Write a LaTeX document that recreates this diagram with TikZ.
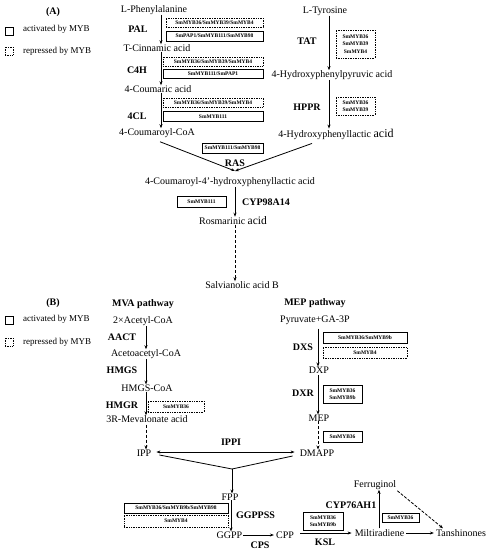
\documentclass[tikz,border=0pt]{standalone}
\usepackage{fontspec}
\setmainfont{Liberation Serif}
\usetikzlibrary{arrows.meta,calc}
\begin{document}
\begin{tikzpicture}[x=1pt,y=-1pt,
 cmp/.style={inner sep=0pt,font=\fontsize{10}{11}\selectfont},
 enz/.style={inner sep=0pt,font=\fontsize{10}{11}\selectfont\bfseries},
 lgd/.style={inner sep=0pt,anchor=west,font=\fontsize{9}{10}\selectfont},
 act/.style={draw,line width=0.9pt,inner sep=0pt,font=\fontsize{5.5}{7}\selectfont\bfseries,align=center},
 rep/.style={draw,densely dotted,line width=0.7pt,inner sep=0pt,font=\fontsize{5.5}{7}\selectfont\bfseries,align=center},
 lact/.style={draw,line width=0.9pt,inner sep=0pt,minimum size=8pt},
 lrep/.style={draw,densely dotted,line width=0.7pt,inner sep=0pt,minimum size=8pt},
 arr/.style={line width=0.8pt,-{Stealth[length=4pt,width=3pt]}},
 darr/.style={arr,densely dashed},
 ddarr/.style={arr,dash pattern=on 3pt off 1.5pt},
 arrtwo/.style={line width=0.8pt,{Stealth[length=4pt,width=3pt]}-{Stealth[length=4pt,width=3pt]}},
 ln/.style={line width=0.8pt},
]
\useasboundingbox (0,0) rectangle (488,550);
% ---------------- (A) ----------------
\node[enz] (labA) at (53,12) {(A)};
\node[lact] (la1) at (9,31) {};
\node[lgd] (lt1) at (23,29) {activated by MYB};
\node[lrep] (lr1) at (9,51) {};
\node[lgd] (lt2) at (23,51) {repressed by MYB};

\node[cmp] (phe) at (154,10) {L-Phenylalanine};
\node[cmp] (cin) at (157,48) {T-Cinnamic acid};
\node[cmp] (cou) at (158,89) {4-Coumaric acid};
\node[cmp] (coa) at (157,133) {4-Coumaroyl-CoA};
\node[cmp] (tyr) at (325,11) {L-Tyrosine};
\node[cmp] (hpp) at (332,75) {4-Hydroxyphenylpyruvic acid};
\node[cmp] (hpl) at (336,134) {4-Hydroxyphenyllactic {\fontsize{12}{12}\selectfont acid}};
\node[cmp] (cha) at (230,182) {4-Coumaroyl-4’-hydroxyphenyllactic acid};
\node[cmp] (ros) at (233,221) {Rosmarinic {\fontsize{11.5}{12}\selectfont acid}};
\node[cmp] (sal) at (242,285) {Salvianolic acid B};

\node[enz] (pal) at (138,29) {PAL};
\node[enz] (c4h) at (137,70) {C4H};
\node[enz] (fcl) at (137,116) {4CL};
\node[enz] (ras) at (235,163) {RAS};
\node[enz] (cyp) at (266,202) {CYP98A14};
\node[enz] (tat) at (307,41) {TAT};
\node[enz] (hppr) at (307,107) {HPPR};

\coordinate (colA) at (161,0);
\coordinate (colB) at (329,0);
\coordinate (colC) at (235,0);
\draw[arr] (phe.south -| colA) -- (cin.north -| colA);
\draw[arr] (cin.south -| colA) -- (cou.north -| colA);
\draw[arr] (cou.south -| colA) -- (coa.north -| colA);
\draw[arr] (tyr.south -| colB) -- (hpp.north -| colB);
\draw[arr] (hpp.south -| colB) -- (hpl.north -| colB);
\coordinate (m) at (235,171);
\draw[arr] ($(coa.south)+(3,4)$) -- (m);
\draw[arr] ($(hpl.south)+(-24,4)$) -- (m);
\draw[arr] (cha.south -| colC) -- (ros.north -| colC);
\draw[darr] (ros.south -| colC) -- (sal.north -| colC);

\node[rep,minimum width=97pt,minimum height=9pt] (bp1) at (214.5,22.5) {SmMYB36/SmMYB39/SmMYB4};
\node[act,minimum width=97pt,minimum height=10pt] (bp2) at (214.5,36) {SmPAP1/SmMYB111/SmMYB98};
\node[rep,minimum width=100pt,minimum height=9pt] (bc1) at (213,61.5) {SmMYB36/SmMYB39/SmMYB4};
\node[act,minimum width=100pt,minimum height=9pt] (bc2) at (213,74) {SmMYB111/SmPAP1};
\node[rep,minimum width=100pt,minimum height=9pt] (bf1) at (213,102.5) {SmMYB36/SmMYB39/SmMYB4};
\node[act,minimum width=100pt,minimum height=10pt] (bf2) at (213,116.5) {SmMYB111};
\node[act,minimum width=61pt,minimum height=10pt] (br) at (232.5,148) {SmMYB111/SmMYB98};
\node[act,minimum width=49pt,minimum height=11pt] (by) at (201.5,201.5) {SmMYB111};
\node[rep,minimum width=39pt,minimum height=28pt,font=\fontsize{5.5}{7.5}\selectfont\bfseries] (bt) at (355.5,44) {SmMYB36\\SmMYB39\\SmMYB4};
\node[rep,minimum width=39pt,minimum height=18pt] (bh) at (355.5,106) {SmMYB36\\SmMYB39};

% ---------------- (B) ----------------
\node[enz] (labB) at (53,303) {(B)};
\node[lact] (la2) at (9,320) {};
\node[lgd] (lt3) at (23,319) {activated by MYB};
\node[lrep] (lr2) at (9,342) {};
\node[lgd] (lt4) at (23,342) {repressed by MYB};

\node[enz] (mva) at (143,304) {MVA pathway};
\node[cmp] (acc) at (143,321) {2×Acetyl-CoA};
\node[cmp] (aac) at (146,354) {Acetoacetyl-CoA};
\node[cmp] (hmg) at (147,388) {HMGS-CoA};
\node[cmp] (mev) at (147,419) {3R-Mevalonate acid};
\node[cmp] (ipp) at (144,453) {IPP};
\node[enz] (aact) at (122,337) {AACT};
\node[enz] (hmgs) at (122,370) {HMGS};
\node[enz] (hmgr) at (122,405) {HMGR};
\coordinate (colD) at (146,0);
\draw[arr] (acc.south -| colD) -- (aac.north -| colD);
\draw[arr] (aac.south -| colD) -- (hmg.north -| colD);
\draw[arr] (hmg.south -| colD) -- (mev.north -| colD);
\draw[darr] ($(mev.south -| colD)+(0,2)$) -- (ipp.north -| colD);
\node[rep,minimum width=56pt,minimum height=11pt] (bhm) at (176,406.5) {SmMYB36};

\node[enz] (mep) at (315,303) {MEP pathway};
\node[cmp] (pyr) at (315,320) {Pyruvate+GA-3P};
\node[cmp] (dxp) at (319,370) {DXP};
\node[cmp] (mepc) at (319,418) {MEP};
\node[cmp] (dma) at (317,453) {DMAPP};
\node[enz] (dxs) at (303,347) {DXS};
\node[enz] (dxr) at (303,393) {DXR};
\coordinate (colE) at (318,0);
\draw[arr] ($(pyr.south -| colE)+(0,4)$) -- (dxp.north -| colE);
\draw[arr] ($(dxp.south -| colE)+(0,2)$) -- (mepc.north -| colE);
\draw[darr] (mepc.south -| colE) -- (dma.north -| colE);
\node[act,minimum width=84pt,minimum height=11pt] (bd1) at (365,337.5) {SmMYB36/SmMYB9b};
\node[rep,minimum width=84pt,minimum height=11pt] (bd2) at (365,352.5) {SmMYB4};
\node[act,minimum width=39pt,minimum height=18pt] (bd3) at (342.5,394) {SmMYB36\\SmMYB9b};
\node[act,minimum width=39pt,minimum height=11pt] (bd4) at (342.5,436.5) {SmMYB36};

\node[enz] (ippi) at (231,442) {IPPI};
\draw[arrtwo] ($(ipp.east)+(5,-1)$) -- ($(dma.west)+(-5,-1)$);
\coordinate (j) at (232,469);
\draw[ln] ($(ipp.east)+(8,2)$) -- (j);
\draw[ln] ($(dma.west)+(-7,3)$) -- (j);
\node[cmp] (fpp) at (230,497) {FPP};
\draw[arr] (j) -- (fpp.north -| j);
\node[cmp] (ggpp) at (229.5,535) {GGPP};
\coordinate (colF) at (231,0);
\draw[arr] (fpp.south -| colF) -- (ggpp.north -| colF);
\node[enz] (ggps) at (255.5,515) {GGPPSS};
\node[act,minimum width=104pt,minimum height=10pt] (bg1) at (176,508) {SmMYB36/SmMYB9b/SmMYB98};
\node[rep,minimum width=104pt,minimum height=12pt] (bg2) at (176,521) {SmMYB4};

\node[cmp] (cpp) at (285,535) {CPP};
\node[enz] (cps) at (260,545) {CPS};
\draw[arr] ($(ggpp.east)+(1,0)$) -- ($(cpp.west)+(-2,0)$);
\node[cmp] (mil) at (379.5,533) {Miltiradiene};
\node[enz] (ksl) at (325,542) {KSL};
\draw[arr] ($(cpp.east)+(6,-2)$) -- ($(mil.west)+(-3,0)$);
\node[act,minimum width=40pt,minimum height=18pt] (bk) at (323,521) {SmMYB36\\SmMYB9b};
\node[cmp] (tan) at (461,533) {Tanshinones};
\draw[arr] ($(mil.east)+(2,0)$) -- ($(tan.west)+(-2,0)$);
\node[cmp] (fer) at (375,485) {Ferruginol};
\coordinate (colG) at (379,0);
\draw[arr] ($(mil.north -| colG)+(0,-1)$) -- ($(fer.south -| colG)+(0,0)$);
\node[enz] (cyp76) at (351,505) {CYP76AH1};
\node[act,minimum width=37pt,minimum height=9pt] (bcy) at (400.5,517.5) {SmMYB36};
\draw[ddarr] ($(fer.south east)+(1,1)$) -- ($(tan.north)+(-18,-1)$);
\end{tikzpicture}
\end{document}
